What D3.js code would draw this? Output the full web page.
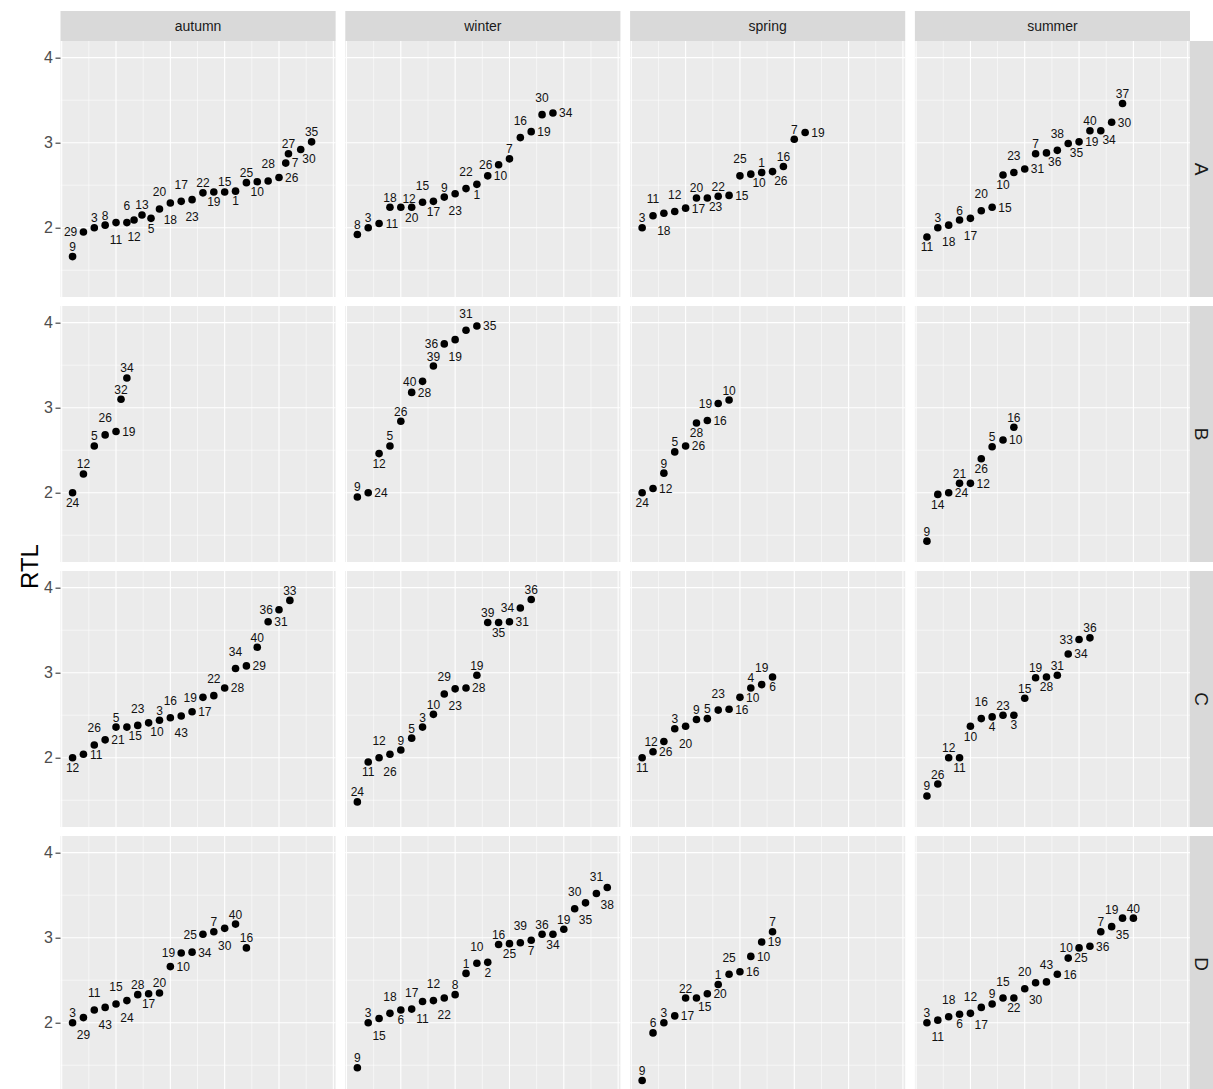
<!DOCTYPE html>
<html>
<head>
<meta charset="utf-8">
<script src="https://cdn.jsdelivr.net/npm/d3@7"></script>
<style>
  body { margin: 0; background: #fff; }
  svg { display: block; font-family: "Liberation Sans", Arial, Helvetica, sans-serif; }
</style>
</head>
<body>
<div id="chart"></div>
<script>
var seasons = ['autumn', 'winter', 'spring', 'summer'];
var groups = ['A', 'B', 'C', 'D'];

// sample ids, ordered along x, one list per season (autumn, winter, spring, summer)
var idA = [
    [9, 29, 3, 8, 11, 6, 12, 13, 5, 20, 18, 17, 23, 22, 19, 15, 1, 25, 10, 28, 26, 7, 27, 30, 35],
    [8, 3, 11, 18, 12, 20, 15, 17, 9, 23, 22, 1, 10, 26, 7, 16, 19, 30, 34],
    [3, 11, 18, 12, 17, 20, 23, 22, 15, 25, 10, 1, 26, 16, 7, 19],
    [11, 3, 18, 6, 17, 20, 15, 10, 23, 31, 7, 36, 38, 35, 19, 40, 34, 30, 37]
];
var rtlA = [
    [1.66, 1.95, 2.00, 2.03, 2.06, 2.06, 2.09, 2.15, 2.11, 2.22, 2.29, 2.31, 2.33, 2.41, 2.42, 2.42, 2.43, 2.53, 2.54, 2.55, 2.59, 2.76, 2.87, 2.92, 3.01],
    [1.92, 2.00, 2.05, 2.24, 2.24, 2.24, 2.30, 2.31, 2.36, 2.40, 2.46, 2.51, 2.61, 2.74, 2.81, 3.06, 3.13, 3.33, 3.35],
    [2.00, 2.14, 2.17, 2.19, 2.23, 2.35, 2.35, 2.37, 2.38, 2.61, 2.63, 2.65, 2.66, 2.72, 3.04, 3.12],
    [1.89, 2.00, 2.03, 2.09, 2.11, 2.20, 2.24, 2.62, 2.65, 2.69, 2.87, 2.88, 2.91, 2.99, 3.01, 3.14, 3.14, 3.24, 3.46]
];

var idB = [
    [24, 12, 5, 26, 19, 32, 34],
    [9, 24, 12, 5, 26, 28, 40, 39, 36, 19, 31, 35],
    [24, 12, 9, 5, 26, 28, 16, 19, 10],
    [9, 14, 24, 21, 12, 26, 5, 10, 16]
];
var rtlB = [
    [2.00, 2.22, 2.55, 2.68, 2.72, 3.10, 3.35],
    [1.95, 2.00, 2.46, 2.55, 2.84, 3.18, 3.31, 3.49, 3.75, 3.80, 3.91, 3.96],
    [2.00, 2.05, 2.23, 2.48, 2.55, 2.82, 2.85, 3.05, 3.09],
    [1.43, 1.98, 2.00, 2.11, 2.11, 2.40, 2.54, 2.62, 2.77]
];

var idC = [
    [12, 11, 26, 21, 5, 15, 23, 10, 3, 16, 43, 17, 19, 22, 28, 34, 29, 40, 31, 36, 33],
    [24, 11, 12, 26, 9, 5, 3, 10, 29, 23, 28, 19, 39, 35, 31, 34, 36],
    [11, 26, 12, 3, 20, 9, 5, 23, 16, 10, 4, 19, 6],
    [9, 26, 12, 11, 10, 16, 4, 23, 3, 15, 19, 28, 31, 34, 33, 36]
];
var rtlC = [
    [2.00, 2.04, 2.15, 2.21, 2.36, 2.36, 2.38, 2.41, 2.44, 2.47, 2.49, 2.54, 2.71, 2.73, 2.82, 3.05, 3.08, 3.30, 3.60, 3.74, 3.85],
    [1.48, 1.95, 2.00, 2.04, 2.09, 2.23, 2.36, 2.51, 2.75, 2.81, 2.82, 2.97, 3.59, 3.59, 3.60, 3.76, 3.86],
    [2.00, 2.07, 2.19, 2.34, 2.37, 2.45, 2.46, 2.56, 2.57, 2.71, 2.82, 2.86, 2.95],
    [1.55, 1.69, 2.00, 2.00, 2.37, 2.46, 2.48, 2.50, 2.50, 2.70, 2.94, 2.95, 2.97, 3.22, 3.39, 3.41]
];

var idD = [
    [3, 29, 11, 43, 15, 24, 28, 17, 20, 10, 19, 34, 25, 7, 30, 40, 16],
    [9, 3, 15, 18, 6, 17, 11, 12, 22, 8, 1, 10, 2, 16, 25, 39, 7, 36, 34, 19, 30, 35, 31, 38],
    [9, 6, 3, 17, 22, 15, 20, 1, 25, 16, 10, 19, 7],
    [3, 11, 18, 6, 12, 17, 9, 15, 22, 20, 30, 43, 16, 25, 10, 36, 7, 19, 35, 40]
];
var rtlD = [
    [2.00, 2.06, 2.15, 2.18, 2.22, 2.26, 2.33, 2.34, 2.35, 2.66, 2.82, 2.83, 3.04, 3.07, 3.11, 3.16, 2.88],
    [1.47, 2.00, 2.05, 2.11, 2.15, 2.16, 2.25, 2.26, 2.29, 2.33, 2.58, 2.70, 2.71, 2.92, 2.93, 2.94, 2.97, 3.04, 3.04, 3.10, 3.34, 3.41, 3.52, 3.59],
    [1.32, 1.88, 2.00, 2.08, 2.29, 2.29, 2.34, 2.45, 2.57, 2.60, 2.78, 2.95, 3.07],
    [2.00, 2.03, 2.07, 2.10, 2.11, 2.18, 2.22, 2.29, 2.29, 2.40, 2.47, 2.48, 2.57, 2.76, 2.88, 2.90, 3.07, 3.13, 3.23, 3.23]
];

// x positions where the points are not on plain ranks
var xAutumnA = [1, 2, 3, 4, 5, 6, 6.66, 7.39, 8.22, 9, 10, 11, 12, 13, 14, 15, 16, 17, 18, 19, 20, 20.62, 20.87, 22, 23];
var xAutumnB = [1, 2, 3, 4, 5, 5.46, 6];

var ids = {A: idA, B: idB, C: idC, D: idD};
var rtl = {A: rtlA, B: rtlB, C: rtlC, D: rtlD};
var xOverride = {A: [xAutumnA], B: [xAutumnB], C: [], D: []};

var width = 1213, height = 1089;

var svg = d3.select('#chart').append('svg')
    .attr('width', width)
    .attr('height', height);

var col = d3.scaleBand().domain(seasons).range([60.5, 1190]).paddingInner(0.034);
var row = d3.scaleBand().domain(groups).range([41, 1092]).paddingInner(0.034);
var pw = col.bandwidth(), ph = row.bandwidth();

var x = d3.scaleLinear().domain([-0.11, 25.21]).range([0, pw]);
var y = d3.scaleLinear().domain([1.185, 4.196]).range([ph, 0]);

var xMajor = x.ticks(5);
var xMinor = xMajor.slice(1).map(function(d, i) { return (d + xMajor[i]) / 2; });
var yMajor = y.ticks(3);
var yMinor = [yMajor[0] - 0.5].concat(yMajor.map(function(d) { return d + 0.5; }))
    .filter(function(d) { return d > y.domain()[0] && d < y.domain()[1]; });

// strips on top
var topStrip = svg.selectAll('.topStrip')
    .data(seasons)
    .enter().append('g')
        .attr('class', 'topStrip')
        .attr('transform', function(d) { return 'translate(' + col(d) + ',11)'; });
topStrip.append('rect')
    .attr('width', pw)
    .attr('height', 30)
    .attr('fill', '#d9d9d9');
topStrip.append('text')
    .attr('x', pw / 2)
    .attr('y', 20)
    .attr('text-anchor', 'middle')
    .attr('fill', '#1a1a1a')
    .style('font-size', '14px')
    .text(function(d) { return d; });

// strips on the right
var sideStrip = svg.selectAll('.sideStrip')
    .data(groups)
    .enter().append('g')
        .attr('class', 'sideStrip')
        .attr('transform', function(d) { return 'translate(1190,' + row(d) + ')'; });
sideStrip.append('rect')
    .attr('width', 40)
    .attr('height', ph)
    .attr('fill', '#d9d9d9');
sideStrip.append('text')
    .attr('transform', 'translate(5,' + (ph / 2) + ') rotate(90)')
    .attr('text-anchor', 'middle')
    .attr('fill', '#1a1a1a')
    .style('font-size', '19px')
    .text(function(d) { return d; });

// y axis title
svg.append('text')
    .attr('transform', 'translate(38,' + ((41 + 1092) / 2) + ') rotate(-90)')
    .attr('text-anchor', 'middle')
    .attr('fill', '#000')
    .style('font-size', '24px')
    .text('RTL');

function overlap(a, b) {
    var w = Math.min(a.x1, b.x1) - Math.max(a.x0, b.x0);
    var h = Math.min(a.y1, b.y1) - Math.max(a.y0, b.y0);
    return (w > 0 && h > 0) ? w * h : 0;
}

// simple greedy label placement, a bit like ggrepel
function placeLabels(pts) {
    var cw = 6.8, th = 8.8, gap = 5.5;
    var obstacles = pts.map(function(p) {
        return {x0: p.px - 4, y0: p.py - 4, x1: p.px + 4, y1: p.py + 4};
    });
    var placed = [];
    pts.forEach(function(p) {
        var lw = String(p.id).length * cw;
        var cands = [
            [p.px - lw / 2, p.py - gap - th],
            [p.px - lw / 2, p.py + gap],
            [p.px + gap + 0.5, p.py - th / 2],
            [p.px - gap - 0.5 - lw, p.py - th / 2],
            [p.px + 1.5, p.py - gap - th + 1],
            [p.px - 1.5 - lw, p.py - gap - th + 1],
            [p.px + 1.5, p.py + gap - 1],
            [p.px - 1.5 - lw, p.py + gap - 1],
            [p.px - lw / 2, p.py - gap - th - 7],
            [p.px - lw / 2, p.py + gap + 7]
        ];
        var best = null, bestScore = Infinity;
        cands.forEach(function(c, k) {
            var b = {x0: c[0], y0: c[1], x1: c[0] + lw, y1: c[1] + th};
            var padP = {x0: b.x0 - 1.5, y0: b.y0 - 1.2, x1: b.x1 + 1.5, y1: b.y1 + 1.2};
            var padL = {x0: b.x0 - 1.5, y0: b.y0 - 3.4, x1: b.x1 + 1.5, y1: b.y1 + 3.4};
            var s = k * 0.7;
            obstacles.forEach(function(o) { s += overlap(padP, o) * 4; });
            placed.forEach(function(o) { s += overlap(padL, o) * 4; });
            if (b.x0 < 2) s += (2 - b.x0) * 20;
            if (b.x1 > pw - 2) s += (b.x1 - pw + 2) * 20;
            if (b.y0 < 2) s += (2 - b.y0) * 20;
            if (s < bestScore) { bestScore = s; best = b; }
        });
        placed.push(best);
        p.lb = best;
    });
}

groups.forEach(function(g) {
    seasons.forEach(function(s, c) {
        var panel = svg.append('g')
            .attr('transform', 'translate(' + col(s) + ',' + row(g) + ')');

        panel.append('rect')
            .attr('width', pw)
            .attr('height', ph)
            .attr('fill', '#ebebeb');

        panel.selectAll('.yMinor').data(yMinor).enter().append('line')
            .attr('x1', 0).attr('x2', pw)
            .attr('y1', y).attr('y2', y)
            .attr('stroke', '#fff').attr('stroke-width', 0.55);
        panel.selectAll('.xMinor').data(xMinor).enter().append('line')
            .attr('y1', 0).attr('y2', ph)
            .attr('x1', x).attr('x2', x)
            .attr('stroke', '#fff').attr('stroke-width', 0.55);
        panel.selectAll('.yMajor').data(yMajor).enter().append('line')
            .attr('x1', 0).attr('x2', pw)
            .attr('y1', y).attr('y2', y)
            .attr('stroke', '#fff').attr('stroke-width', 1.1);
        panel.selectAll('.xMajor').data(xMajor).enter().append('line')
            .attr('y1', 0).attr('y2', ph)
            .attr('x1', x).attr('x2', x)
            .attr('stroke', '#fff').attr('stroke-width', 1.1);

        var xs = xOverride[g][c];
        var pts = ids[g][c].map(function(id, i) {
            var pos = xs ? xs[i] : i + 1;
            return {id: id, v: rtl[g][c][i], px: x(pos), py: y(rtl[g][c][i])};
        });
        placeLabels(pts);

        panel.selectAll('.dot').data(pts).enter().append('circle')
            .attr('cx', function(d) { return d.px; })
            .attr('cy', function(d) { return d.py; })
            .attr('r', 3.8)
            .attr('fill', '#000');

        panel.selectAll('.lab').data(pts).enter().append('text')
            .attr('x', function(d) { return (d.lb.x0 + d.lb.x1) / 2; })
            .attr('y', function(d) { return d.lb.y1; })
            .attr('text-anchor', 'middle')
            .attr('fill', '#111')
            .style('font-size', '12px')
            .text(function(d) { return d.id; });

        if (c === 0) {
            var ax = panel.append('g')
                .call(d3.axisLeft(y).tickValues(yMajor).tickSize(5).tickPadding(2.5).tickFormat(d3.format('d')));
            ax.select('.domain').remove();
            ax.selectAll('line').attr('stroke', '#333').attr('stroke-width', 1.1);
            ax.selectAll('text')
                .attr('fill', '#4d4d4d')
                .style('font-size', '16px')
                .style('font-family', '"Liberation Sans", Arial, sans-serif');
        }
    });
});
</script>
</body>
</html>
